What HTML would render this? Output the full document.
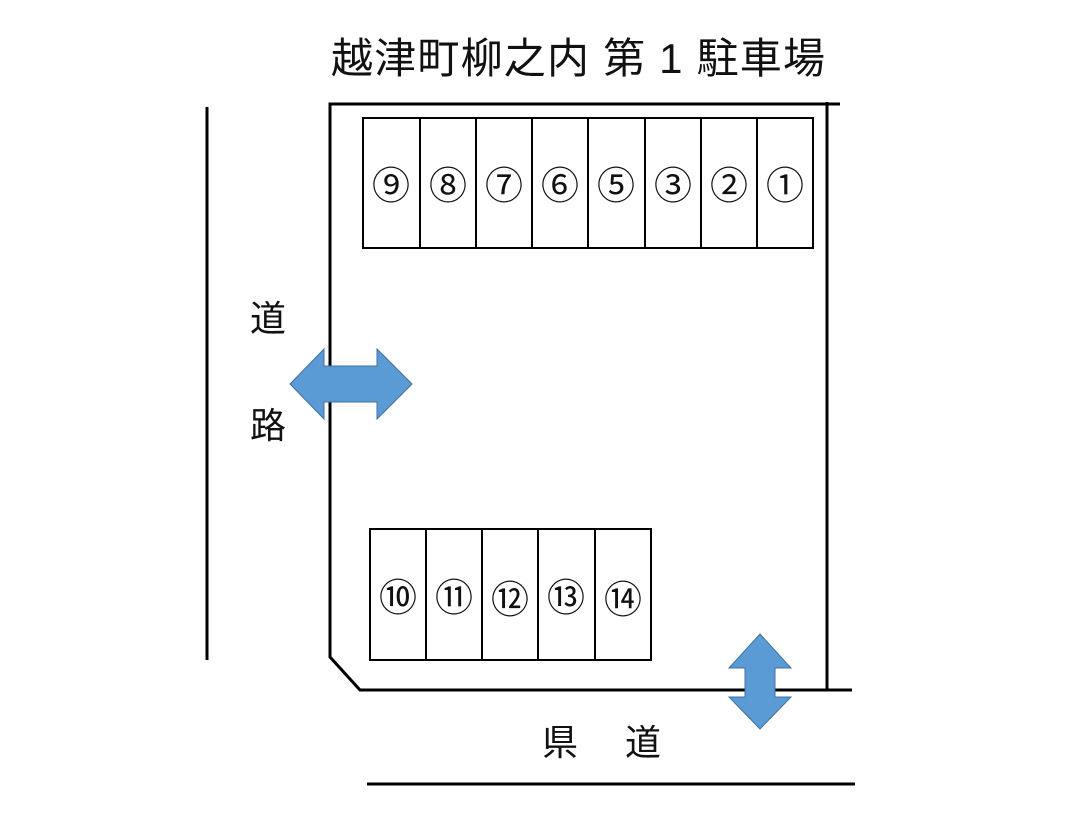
<!DOCTYPE html>
<html><head><meta charset="utf-8"><style>
body{margin:0;background:#fff;}
svg text{font-family:"Liberation Sans","Noto Sans CJK JP",sans-serif;fill:#111;}
</style></head><body>
<svg width="1088" height="814" viewBox="0 0 1088 814" xmlns="http://www.w3.org/2000/svg">
<text x="578" y="73" font-size="42" text-anchor="middle" textLength="494" lengthAdjust="spacing">越津町柳之内 第 1 駐車場</text>
<g stroke="#000" stroke-width="3" fill="none">
<line x1="207" y1="107" x2="207" y2="660"/>
<polyline points="840,104 330,104 330,657 360,690 852,690"/>
<line x1="827" y1="102" x2="827" y2="690"/>
<line x1="367" y1="784" x2="855" y2="784"/>
</g>
<g stroke="#000" stroke-width="2" fill="none">
<rect x="363" y="118" width="450" height="130"/>
<line x1="420" y1="118" x2="420" y2="248"/><line x1="476" y1="118" x2="476" y2="248"/>
<line x1="532" y1="118" x2="532" y2="248"/><line x1="588" y1="118" x2="588" y2="248"/>
<line x1="645" y1="118" x2="645" y2="248"/><line x1="701" y1="118" x2="701" y2="248"/>
<line x1="757" y1="118" x2="757" y2="248"/>
<rect x="370" y="529" width="281" height="131"/>
<line x1="426" y1="529" x2="426" y2="660"/><line x1="482" y1="529" x2="482" y2="660"/>
<line x1="538" y1="529" x2="538" y2="660"/><line x1="595" y1="529" x2="595" y2="660"/>
</g>
<g font-size="38" text-anchor="middle">
<text x="391" y="199">⑨</text><text x="448" y="199">⑧</text><text x="504" y="199">⑦</text>
<text x="560" y="199">⑥</text><text x="616" y="199">⑤</text><text x="673" y="199">③</text>
<text x="729" y="199">②</text><text x="785" y="199">①</text>
<text x="398" y="611">⑩</text><text x="454" y="611">⑪</text><text x="510" y="613">⑫</text>
<text x="566" y="611">⑬</text><text x="623" y="613">⑭</text>
</g>
<g font-size="36" text-anchor="middle">
<text x="268" y="331">道</text><text x="268" y="438">路</text>
<text x="560" y="755">県</text><text x="643" y="755">道</text>
</g>
<g fill="#5b9bd5" stroke="#41719c" stroke-width="1">
<polygon points="290,384 324,349 324,366 377,366 377,349 412,384 377,419 377,402 324,402 324,419"/>
<polygon points="760,634 791,668 775,668 775,697 791,697 760,729 729,697 745,697 745,668 729,668"/>
</g>
</svg>
</body></html>
